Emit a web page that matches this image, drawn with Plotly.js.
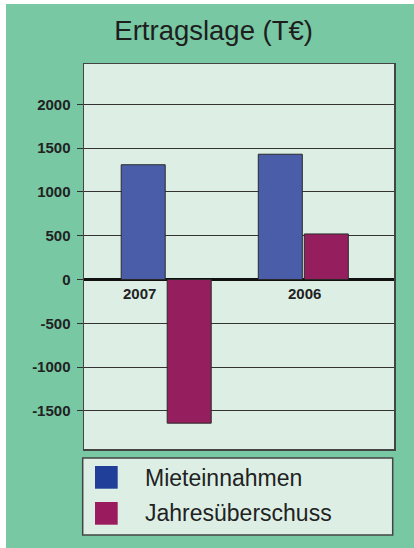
<!DOCTYPE html>
<html>
<head>
<meta charset="utf-8">
<script src="https://cdn.plot.ly/plotly-3.0.1.min.js"></script>
<style>
  html, body { margin: 0; padding: 0; background: #ffffff; }
  #chart { position: absolute; left: 6px; top: 4px; width: 408px; height: 544px; }
</style>
</head>
<body>
<div id="chart"></div>
<script>
// ---- data ----
var years = ['2007', '2006'];
var seriesNames = ['Mieteinnahmen', 'Jahresüberschuss'];
var mieteinnahmen = [1310, 1430];
var jahresueberschuss = [-1640, 520];
var yTickVals = [-1500, -1000, -500, 0, 500, 1000, 1500, 2000];
var chartTitle = 'Ertragslage (T€)';

// ---- styling ----
var barColors = ['#4A5DA8', '#951F5E'];
var swatchColors = ['#1F3F99', '#9A1C5E'];
var FONT = 'Liberation Sans, Arial, Helvetica, sans-serif';

var W = 408, H = 544;
var mL = 78, mR = 20, mT = 60, mB = 99;
var pw = W - mL - mR, ph = H - mT - mB;
function px2x(px) { return (px - mL) / pw; }
function py2y(py) { return (mT + ph - py) / ph; }

var traces = [
  {
    type: 'bar', name: seriesNames[0], x: years, y: mieteinnahmen,
    marker: { color: barColors[0], line: { color: '#2a2a2a', width: 1 } },
    hoverinfo: 'x+y'
  },
  {
    type: 'bar', name: seriesNames[1], x: years, y: jahresueberschuss,
    marker: { color: barColors[1], line: { color: '#2a2a2a', width: 1 } },
    hoverinfo: 'x+y'
  }
];

var shapes = [
  // legend box
  { type: 'rect', xref: 'paper', yref: 'paper',
    x0: px2x(76.7), x1: px2x(386.7), y0: py2y(454), y1: py2y(531),
    fillcolor: '#DDEFE5', line: { color: '#444444', width: 1.5 }, layer: 'above' },
  // swatches
  { type: 'rect', xref: 'paper', yref: 'paper',
    x0: px2x(89), x1: px2x(111.7), y0: py2y(462), y1: py2y(484.7),
    fillcolor: swatchColors[0], line: { width: 0 }, layer: 'above' },
  { type: 'rect', xref: 'paper', yref: 'paper',
    x0: px2x(89), x1: px2x(111.7), y0: py2y(498), y1: py2y(520.7),
    fillcolor: swatchColors[1], line: { width: 0 }, layer: 'above' }
];

var yearShift = [-27, 1];
var annotations = years.map(function (yr, i) {
  return { text: yr, x: i, y: 0, xref: 'x', yref: 'y',
    showarrow: false, xanchor: 'center', yanchor: 'middle', xshift: yearShift[i], yshift: -14,
    font: { family: FONT, size: 15, color: '#222222', weight: 'bold' } };
}).concat([
  { text: seriesNames[0], xref: 'paper', yref: 'paper', x: px2x(137), y: py2y(473.5),
    showarrow: false, xanchor: 'left', yanchor: 'middle',
    font: { family: FONT, size: 23, color: '#222222' } },
  { text: seriesNames[1], xref: 'paper', yref: 'paper', x: px2x(137), y: py2y(509),
    showarrow: false, xanchor: 'left', yanchor: 'middle',
    font: { family: FONT, size: 23, color: '#222222' } }
]);

var layout = {
  width: W, height: H,
  paper_bgcolor: '#77C8A3',
  plot_bgcolor: '#DDEFE5',
  margin: { l: mL, r: mR, t: mT, b: mB, pad: 0 },
  showlegend: false,
  title: {
    text: chartTitle,
    xref: 'container', yref: 'container', x: 0.509, y: 1 - 26 / H,
    xanchor: 'center', yanchor: 'middle',
    font: { family: FONT, size: 27.5, color: '#1e1e1e' }
  },
  barmode: 'group',
  bargap: 0.329,
  bargroupgap: 0.043,
  xaxis: {
    type: 'category',
    range: [-0.5996, 1.6616],
    showticklabels: false,
    ticks: '',
    showgrid: false,
    zeroline: false,
    showline: true, mirror: true, linecolor: '#444444', linewidth: 1.5,
    fixedrange: true
  },
  yaxis: {
    range: [-1935, 2460],
    tickvals: yTickVals,
    ticktext: yTickVals.map(String),
    ticks: 'outside', ticklen: 6, tickcolor: '#333333', tickwidth: 1,
    ticklabelstandoff: 3,
    tickfont: { family: FONT, size: 15, color: '#222222', weight: 'bold' },
    showgrid: true, gridcolor: '#333333', gridwidth: 1,
    zeroline: true, zerolinecolor: '#111111', zerolinewidth: 3,
    showline: true, mirror: true, linecolor: '#444444', linewidth: 1.5,
    fixedrange: true
  },
  shapes: shapes,
  annotations: annotations
};

Plotly.newPlot('chart', traces, layout, { displayModeBar: false, staticPlot: true });
</script>
</body>
</html>
